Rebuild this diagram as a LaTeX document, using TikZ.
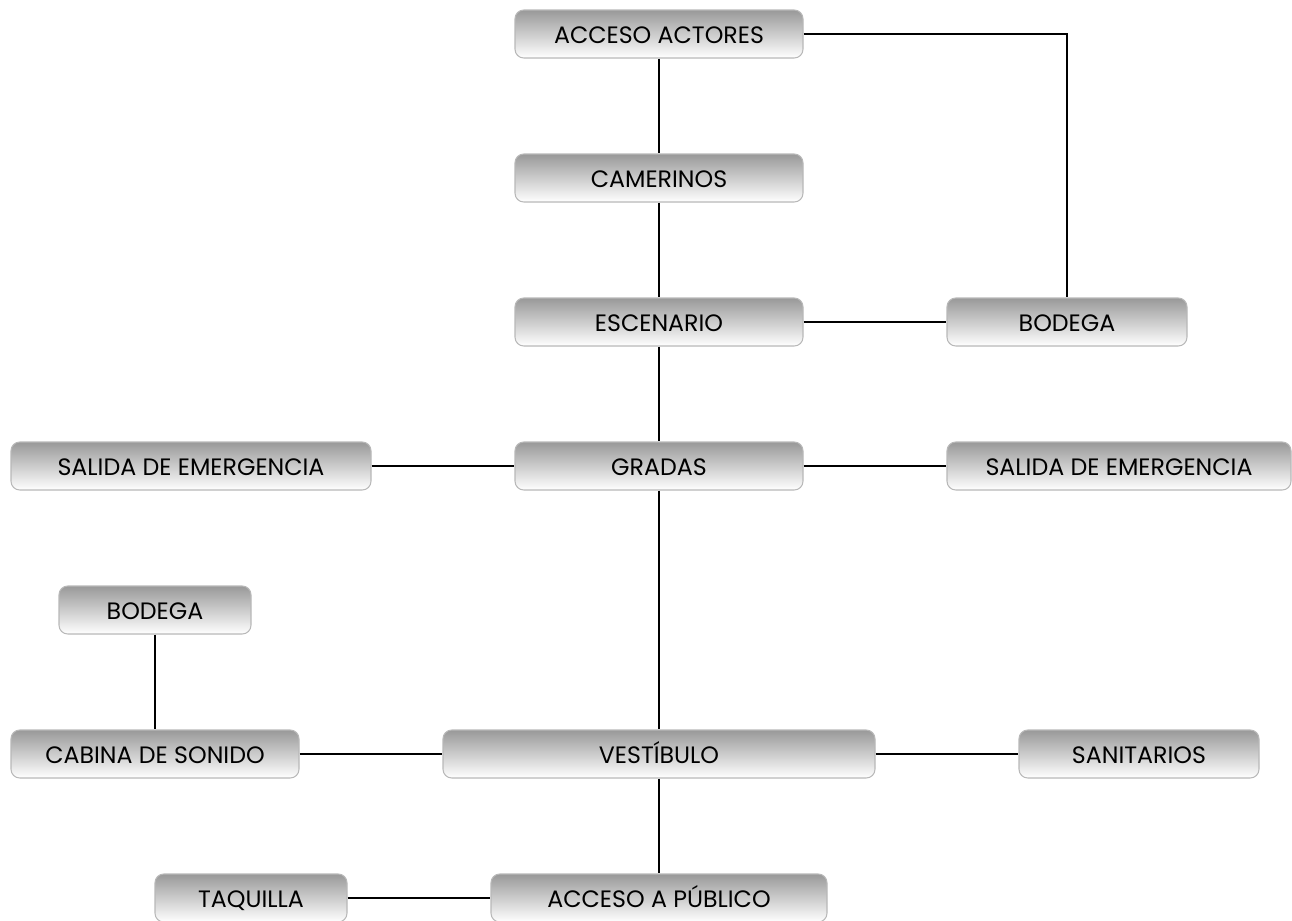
\documentclass[tikz,border=0pt]{standalone}
\usepackage{fontspec}
\setmainfont{Poppins}
\begin{document}
\begin{tikzpicture}[x=0.02cm,y=-0.02cm,
  box/.style={draw=black!28, line width=0.6pt, rounded corners=5pt, top color=black!40, bottom color=white,
    minimum height=48*0.02cm, inner sep=0pt, text height=11pt, text depth=0pt,
    font=\fontsize{13.5}{16}\selectfont},
  link/.style={draw=black, line width=0.6pt}]
\useasboundingbox (0,0) rectangle (1292,920);
\node[box, minimum width=288*0.02cm] (aa) at (659,34) {ACCESO ACTORES};
\node[box, minimum width=288*0.02cm] (cam) at (659,178) {CAMERINOS};
\node[box, minimum width=288*0.02cm] (esc) at (659,322) {ESCENARIO};
\node[box, minimum width=240*0.02cm] (bod1) at (1067,322) {BODEGA};
\node[box, minimum width=288*0.02cm] (gra) at (659,466) {GRADAS};
\node[box, minimum width=360*0.02cm] (sal1) at (191,466) {SALIDA DE EMERGENCIA};
\node[box, minimum width=344*0.02cm] (sal2) at (1119,466) {SALIDA DE EMERGENCIA};
\node[box, minimum width=192*0.02cm] (bod2) at (155,610) {BODEGA};
\node[box, minimum width=288*0.02cm] (cab) at (155,754) {CABINA DE SONIDO};
\node[box, minimum width=432*0.02cm] (ves) at (659,754) {VESTÍBULO};
\node[box, minimum width=240*0.02cm] (san) at (1139,754) {SANITARIOS};
\node[box, minimum width=192*0.02cm] (taq) at (251,898) {TAQUILLA};
\node[box, minimum width=336*0.02cm] (acp) at (659,898) {ACCESO A PÚBLICO};
\draw[link] (aa) -- (cam);
\draw[link] (cam) -- (esc);
\draw[link] (esc) -- (gra);
\draw[link] (esc) -- (bod1);
\draw[link] (aa.east) -| (bod1.north);
\draw[link] (sal1) -- (gra);
\draw[link] (gra) -- (sal2);
\draw[link] (gra) -- (ves);
\draw[link] (bod2) -- (cab);
\draw[link] (cab) -- (ves);
\draw[link] (ves) -- (san);
\draw[link] (ves) -- (acp);
\draw[link] (taq) -- (acp);
\end{tikzpicture}
\end{document}
